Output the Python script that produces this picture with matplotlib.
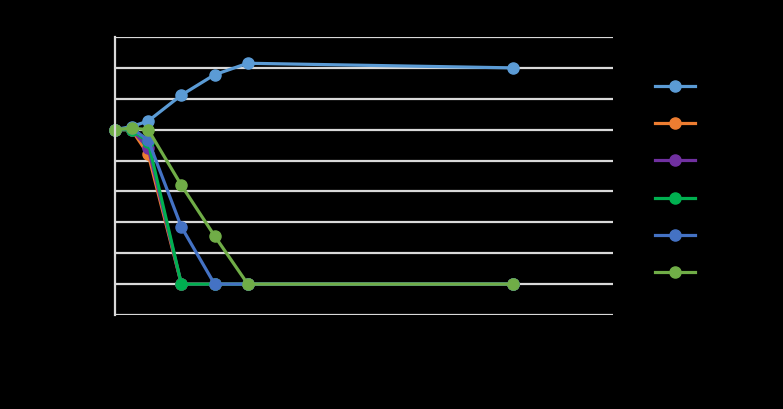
import matplotlib
matplotlib.use("Agg")
import matplotlib.pyplot as plt

x_time = [0, 0.5, 1, 2, 3, 4, 12]
series_names = ["Series 1", "Series 2", "Series 3", "Series 4", "Series 5", "Series 6"]
s1 = [6.0, 6.1, 6.28, 7.12, 7.78, 8.15, 8.0]
s2 = [6.0, 6.0, 5.2, 1.0, 1.0, 1.0, 1.0]
s3 = [6.0, 6.0, 5.4, 1.0, 1.0, 1.0, 1.0]
s4 = [6.0, 6.0, 5.6, 1.0, 1.0, 1.0, 1.0]
s5 = [6.0, 6.05, 5.66, 2.85, 1.0, 1.0, 1.0]
s6 = [6.0, 6.05, 6.0, 4.2, 2.56, 1.0, 1.0]
colors = ["#5B9BD5", "#ED7D31", "#7030A0", "#00B050", "#4472C4", "#70AD47"]
y_ticks = list(range(0, 10))
x_ticks = [0, 5, 10, 15]

fig = plt.figure(figsize=(7.83, 4.09), dpi=100)
fig.patch.set_facecolor("black")
ax = fig.add_axes([115/783, (409-315)/409, (613-115)/783, (315-37)/409])
ax.set_facecolor("black")

for name, ys, c in zip(series_names, [s1, s2, s3, s4, s5, s6], colors):
    ax.plot(x_time, ys, color=c, lw=2.3, marker="o", markersize=8, label=name,
            solid_joinstyle="round", clip_on=False)

ax.set_xlim(0, 15)
ax.set_ylim(0, 9)
ax.set_yticks(y_ticks)
ax.set_xticks(x_ticks)
ax.grid(axis="y", color="#D9D9D9", lw=1.6)
ax.set_axisbelow(True)
for sp in ["top", "right", "bottom"]:
    ax.spines[sp].set_visible(False)
ax.spines["left"].set_color("#D9D9D9")
ax.spines["left"].set_linewidth(1.6)
ax.tick_params(length=0, colors="black", labelsize=10)

leg = fig.legend(loc="upper left", bbox_to_anchor=(642/783, 1 - 67/409), frameon=False,
                 labelspacing=1.68, handlelength=2.9, fontsize=10, labelcolor="black")

fig.savefig("out.png", dpi=100, facecolor="black")
